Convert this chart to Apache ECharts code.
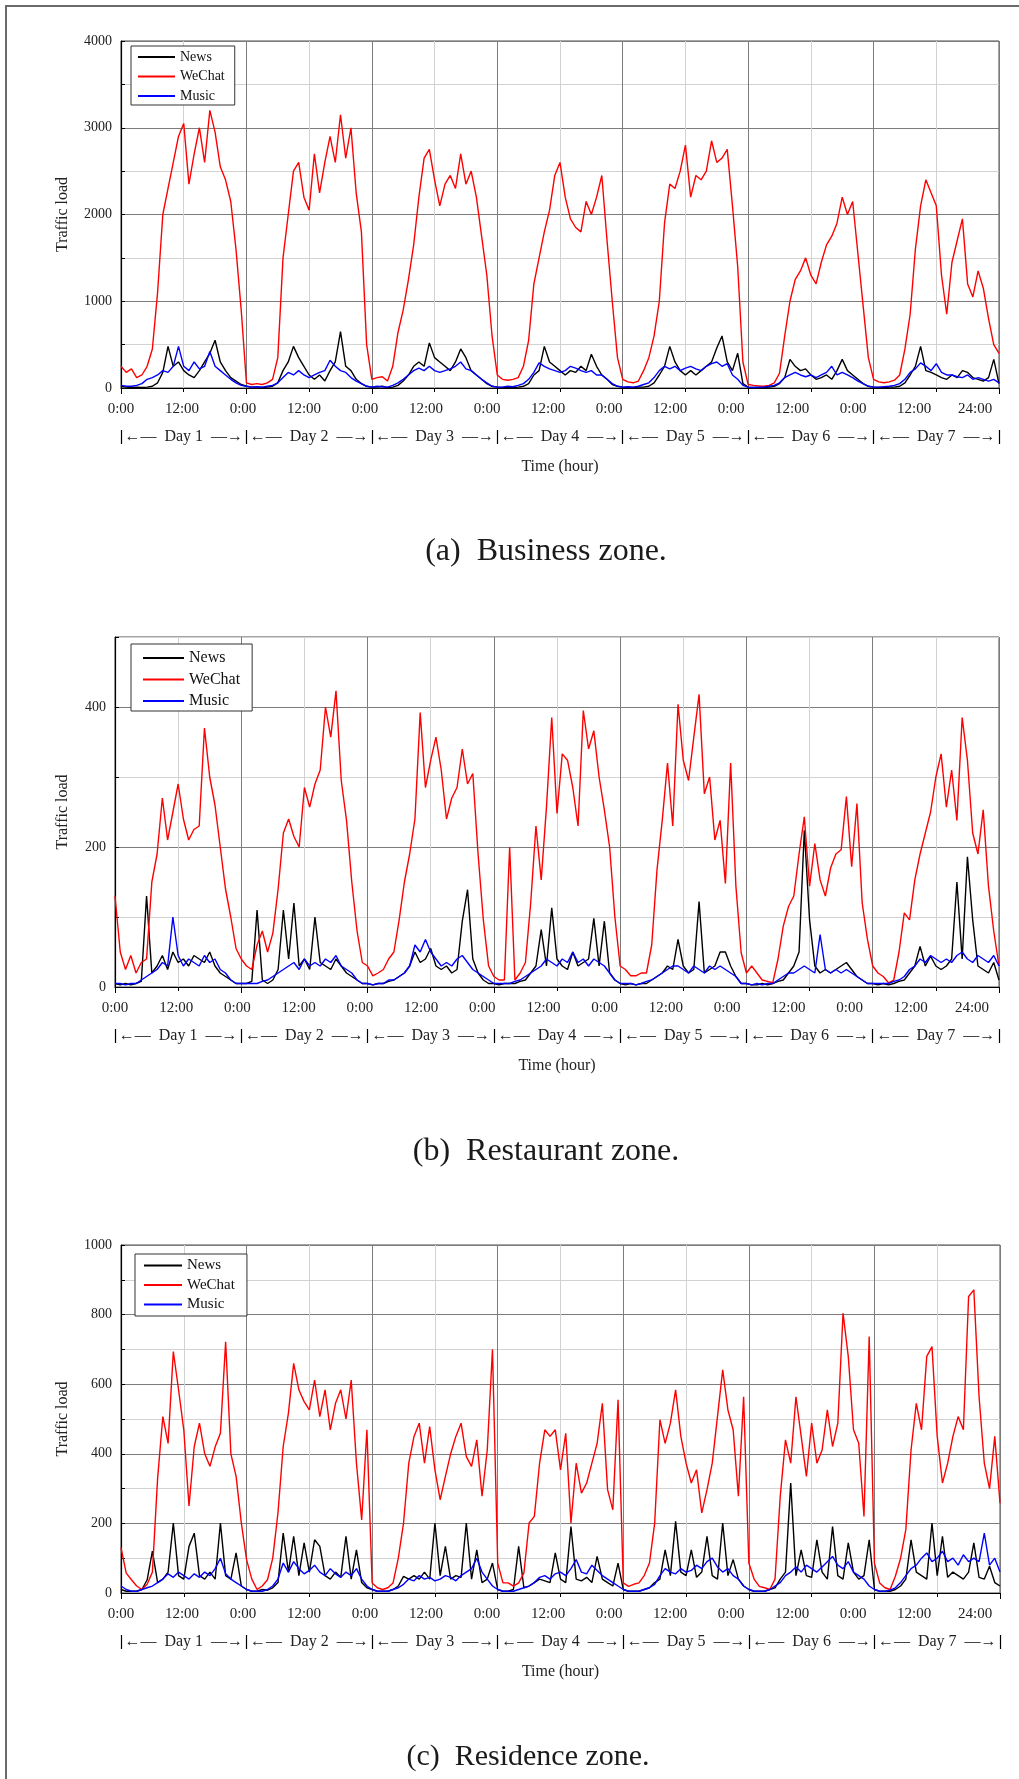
<!DOCTYPE html>
<html>
<head>
<meta charset="utf-8">
<script src="https://cdn.jsdelivr.net/npm/echarts@6/dist/echarts.min.js"></script>
<style>
html,body{margin:0;padding:0;background:#fff;}
#wrap{position:relative;width:1019px;height:1779px;overflow:hidden;}
#chart{width:1019px;height:1779px;}
#frame{position:absolute;left:5px;top:5px;right:-5px;bottom:-5px;border-left:2px solid #6a6a6a;border-top:2px solid #6a6a6a;pointer-events:none;}
</style>
</head>
<body>
<div id="wrap"><div id="chart"></div><div id="frame"></div></div>
<script>
// ---------------- DATA (hourly samples, hour 0 .. 168) ----------------
const seriesNames = ['News', 'WeChat', 'Music'];
const dayLabels = ['Day 1', 'Day 2', 'Day 3', 'Day 4', 'Day 5', 'Day 6', 'Day 7'];
const captions = ['(a)  Business zone.', '(b)  Restaurant zone.', '(c)  Residence zone.'];
const yTitle = 'Traffic load';
const xTitle = 'Time (hour)';

// (a) Business zone
const aNews = [
  20,10,5,10,5,10,20,60,180,480,250,300,200,150,120,200,300,400,550,300,200,120,80,40,
  20,10,10,5,10,20,60,200,300,480,350,250,150,100,150,80,200,300,650,250,200,100,50,20,
  10,10,20,5,10,30,80,150,250,300,250,520,350,300,250,200,300,450,350,200,150,100,50,20,
  10,5,10,5,10,20,50,150,200,480,300,250,200,150,200,180,250,200,390,250,150,100,40,20,
  10,5,5,10,10,20,60,150,250,480,300,200,150,200,150,200,250,300,460,600,300,200,400,50,
  10,5,5,5,10,20,50,120,330,250,200,220,150,100,120,150,100,200,330,200,150,100,50,20,
  10,5,5,10,10,20,60,150,250,480,200,180,150,120,100,150,120,200,180,120,100,80,120,330,50
];
const aWeChat = [
  250,180,220,120,150,250,450,1100,2000,2300,2600,2900,3050,2350,2700,3000,2600,3200,2950,2550,2400,2150,1600,900,
  60,40,50,40,60,100,350,1500,2000,2500,2600,2200,2050,2700,2250,2600,2900,2600,3150,2650,3000,2250,1800,500,
  100,120,130,80,250,640,900,1250,1650,2200,2650,2750,2400,2100,2350,2450,2300,2700,2350,2500,2200,1750,1300,600,
  150,100,90,100,120,250,550,1200,1500,1800,2050,2450,2600,2200,1950,1850,1800,2150,2000,2200,2450,1700,1000,350,
  100,70,60,80,200,350,600,1000,1900,2350,2300,2500,2800,2200,2450,2400,2500,2850,2600,2650,2750,2100,1400,300,
  40,30,25,20,30,60,170,600,1000,1250,1350,1500,1300,1200,1450,1650,1750,1900,2200,2000,2150,1550,950,350,
  100,70,60,70,90,150,450,850,1600,2100,2400,2250,2100,1300,850,1450,1700,1950,1200,1050,1350,1150,800,500,400
];
const aMusic = [
  30,20,20,30,50,100,120,150,200,180,250,480,250,200,300,220,250,420,250,200,150,100,60,30,
  20,10,15,10,20,30,60,120,180,150,200,150,120,150,180,200,320,250,200,180,120,80,50,20,
  10,20,15,10,30,60,100,150,200,230,200,250,200,180,200,220,250,300,220,200,150,100,60,20,
  10,10,20,15,30,50,100,180,290,250,220,200,180,200,250,230,200,180,200,150,150,100,50,20,
  10,15,10,20,40,60,120,200,250,220,250,200,230,250,220,200,250,280,300,250,280,150,100,30,
  10,5,10,10,20,30,60,120,150,180,150,130,150,120,150,180,250,150,180,150,120,80,50,20,
  10,10,15,20,30,50,100,180,220,290,250,200,280,180,150,150,130,120,150,100,120,100,80,100,60
];

// (b) Restaurant zone
const bNews = [
  5,3,5,3,5,8,130,20,30,45,25,50,35,40,30,45,40,35,50,30,20,15,10,5,
  5,5,8,110,10,5,10,25,110,40,120,30,40,25,100,35,30,25,40,30,20,15,10,5,
  5,3,5,5,8,10,15,20,30,50,35,40,55,30,25,30,20,25,94,139,40,20,10,5,
  5,3,5,5,5,8,10,20,30,82,30,113,40,30,25,50,30,35,40,98,30,94,20,10,
  5,3,5,3,5,5,10,15,20,30,25,68,30,20,25,122,20,25,30,50,50,30,15,5,
  5,3,3,5,3,5,8,10,20,30,50,224,96,30,20,25,20,25,30,35,25,15,10,5,
  5,3,5,3,5,8,10,20,30,58,30,44,30,25,30,40,150,40,186,96,30,25,20,35,10
];
const bWeChat = [
  130,50,25,45,20,35,40,150,190,270,210,250,290,240,210,225,230,370,300,260,200,140,100,55,
  40,30,25,60,80,50,77,140,220,240,215,200,285,257,290,310,400,357,423,295,238,150,80,35,
  30,16,20,25,40,50,96,150,190,240,392,285,324,357,310,240,270,285,340,290,305,190,96,30,
  15,10,10,200,10,20,35,120,230,153,257,385,248,333,324,285,230,395,340,366,300,253,200,100,
  30,25,16,16,20,20,60,167,238,320,230,404,324,295,357,418,276,300,210,238,148,320,144,49,
  20,30,20,10,8,6,40,87,115,130,190,243,144,205,153,130,170,190,196,272,172,262,120,68,
  30,20,15,6,10,50,106,96,153,190,220,250,300,333,257,310,238,385,324,220,190,253,144,80,30
];
const bMusic = [
  5,5,3,5,5,10,15,20,25,35,30,100,45,30,40,35,30,45,35,40,25,20,10,5,
  5,5,5,5,8,10,15,20,25,30,35,25,40,30,35,30,40,35,45,30,25,20,10,5,
  5,3,5,5,10,10,15,20,30,60,50,68,50,40,30,35,30,40,45,35,25,20,15,10,
  5,5,5,5,8,10,15,20,25,30,40,35,30,40,35,50,35,40,30,40,35,30,20,10,
  5,5,5,3,5,8,10,15,20,25,30,30,25,20,30,25,20,30,25,30,25,20,15,5,
  5,3,5,3,5,5,10,15,20,20,25,30,25,20,75,25,20,25,20,25,20,15,10,5,
  5,5,5,5,8,10,15,25,30,40,35,45,40,35,40,35,45,50,40,35,45,40,35,45,30
];

// (c) Residence zone
const cNews = [
  10,5,5,5,10,38,120,30,40,60,201,50,40,134,172,50,40,60,40,201,50,40,115,20,
  10,5,5,10,8,15,30,172,60,163,50,144,60,153,134,50,40,60,45,163,40,124,30,15,
  10,5,5,5,10,20,48,40,50,40,60,40,201,50,134,40,50,45,201,40,124,30,40,86,
  10,5,5,10,134,15,20,30,40,35,30,115,40,30,191,40,35,45,30,105,40,30,20,86,
  10,5,5,5,10,15,30,40,124,50,206,60,50,124,45,60,163,50,40,201,50,96,40,20,
  10,5,5,5,10,15,40,60,316,50,124,50,45,153,60,40,191,50,40,144,60,40,50,153,
  10,5,5,5,10,20,40,153,60,50,40,201,50,163,45,60,50,40,60,144,45,40,77,30,20
];
const cWeChat = [
  130,57,38,20,10,25,60,330,507,430,694,584,469,250,421,488,400,364,420,459,722,400,335,201,
  96,40,10,20,38,100,230,421,517,660,584,550,526,612,507,584,469,545,584,500,612,373,210,469,
  29,15,10,15,29,100,201,373,450,488,373,478,354,268,335,400,450,488,392,364,440,278,411,700,
  86,29,29,20,29,57,201,220,373,469,450,469,354,459,201,373,287,316,373,430,545,297,239,555,
  29,19,25,29,50,86,201,498,430,488,584,450,373,316,354,230,297,373,507,641,526,469,278,564,
  86,40,19,15,10,40,278,440,373,564,450,335,488,373,411,526,421,488,804,680,469,430,220,737,
  86,29,15,10,48,100,182,411,545,469,680,708,450,316,373,450,507,469,852,871,564,373,300,450,258
];
const cMusic = [
  20,10,5,5,10,15,20,30,40,55,45,60,50,40,55,45,60,50,70,100,55,40,30,20,
  10,5,5,5,10,20,40,86,60,90,70,55,65,80,60,50,70,55,45,60,50,70,40,20,
  10,5,5,5,10,15,25,40,35,50,40,45,35,40,50,45,35,50,60,70,100,60,40,20,
  10,5,5,5,10,15,20,30,45,50,40,55,60,50,70,96,60,55,80,65,50,40,30,20,
  10,5,5,5,10,15,25,50,70,60,55,70,60,65,80,70,90,100,75,60,70,50,40,20,
  10,5,5,5,10,20,30,50,60,75,60,80,70,60,75,90,105,80,70,90,60,50,40,20,
  10,5,5,8,15,30,50,70,80,100,115,90,100,120,90,100,80,110,90,100,90,172,80,100,60
];

const panelSeries = [[aNews, aWeChat, aMusic], [bNews, bWeChat, bMusic], [cNews, cWeChat, cMusic]];
const yMaxes = [4000, 500, 1000];
const yLabelSteps = [1000, 200, 200];
const yMinorSteps = [500, 100, 100];

// ---------------- LAYOUT / STYLE ----------------
const SERIF = "'Liberation Serif','Times New Roman',Times,serif";
const lineColors = ['#000000', '#ff0000', '#0000ff'];
const MAJOR = '#7c7c7c', MINOR = '#d2d2d2';
const layout = [
  { grid: {left:121, top:41, width:878, height:347}, nameGap:50, labelMax:172.7,
    legend: {left:131, top:46, itemWidth:37, itemGap:5.5, fontSize:14, padding:[4,10,2,7]},
    caption: {x:546, y:536, size:32} },
  { grid: {left:115, top:637, width:884, height:350}, nameGap:44, labelMax:173.3,
    legend: {left:131, top:644, itemWidth:41, itemGap:5.5, fontSize:16, padding:[6,12,2,12]},
    caption: {x:546, y:1136, size:32} },
  { grid: {left:121, top:1245, width:879, height:348}, nameGap:50, labelMax:172.9,
    legend: {left:135, top:1254, itemWidth:38, itemGap:4.5, fontSize:15, padding:[4,12,4,9]},
    caption: {x:528, y:1742, size:30} }
];

const grids = [], xAxes = [], yAxes = [], series = [], legends = [], titles = [];
layout.forEach((L, p) => {
  grids.push(Object.assign({show:true, borderColor:'#4a4a4a', borderWidth:1, backgroundColor:'#fff',
    containLabel:false, outerBoundsMode:'none'}, L.grid));
  // main time axis (draws grid, ticks, title)
  xAxes.push({
    type:'value', gridIndex:p, position:'bottom', min:0, max:168, interval:24,
    axisLine:{show:true, onZero:false, lineStyle:{color:'#000', width:1.2}},
    axisTick:{show:true, length:6, lineStyle:{color:'#000'}},
    minorTick:{show:true, splitNumber:2, length:4, lineStyle:{color:'#000'}},
    axisLabel:{show:false},
    splitLine:{show:true, showMinLine:true, showMaxLine:true, lineStyle:{color:MAJOR, width:1}},
    minorSplitLine:{show:true, lineStyle:{color:MINOR, width:1}},
    name:xTitle, nameLocation:'middle', nameGap:71,
    nameTextStyle:{fontFamily:SERIF, fontSize:16, color:'#222'}
  });
  // time-of-day labels
  xAxes.push({
    type:'value', gridIndex:p, position:'bottom', min:0, max:L.labelMax, interval:12,
    axisLine:{show:false, onZero:false}, axisTick:{show:false}, splitLine:{show:false},
    minorTick:{show:false}, minorSplitLine:{show:false},
    axisLabel:{show:true, margin:14, fontFamily:SERIF, fontSize:15, color:'#222',
      showMinLabel:true, showMaxLabel:true, hideOverlap:false,
      formatter: v => {
        if (v > 168.01) return '';
        const r = Math.round(v);
        if (r === 168) return '24:00';
        return (r % 24 === 0) ? '0:00' : '12:00';
      }}
  });
  // day labels row
  xAxes.push({
    type:'category', gridIndex:p, position:'bottom', offset:56, data:dayLabels, boundaryGap:true,
    axisLine:{show:false, onZero:false},
    axisTick:{show:true, inside:true, length:14, interval:0, alignWithLabel:false, lineStyle:{color:'#000', width:1.2}},
    splitLine:{show:false},
    axisLabel:{show:true, interval:0, margin:-7, verticalAlign:'middle', fontFamily:SERIF, fontSize:16, color:'#222',
      formatter: v => '\u2190\u2014\u2002' + v + '\u2002\u2014\u2192'}
  });
  const step = yLabelSteps[p];
  yAxes.push({
    type:'value', gridIndex:p, position:'left', min:0, max:yMaxes[p], interval:yMinorSteps[p],
    axisLine:{show:true, onZero:false, lineStyle:{color:'#000', width:1.2}},
    axisTick:{show:true, inside:true, length:4, lineStyle:{color:'#000'}},
    axisLabel:{show:true, margin:9, fontFamily:SERIF, fontSize:14, color:'#222',
      formatter: v => (Math.round(v) % step === 0 ? String(v) : '')},
    splitLine:{show:true, showMinLine:true, showMaxLine:true, lineStyle:{color:[MAJOR, MINOR], width:1}},
    name:yTitle, nameLocation:'middle', nameGap:L.nameGap, nameRotate:90,
    nameTextStyle:{fontFamily:SERIF, fontSize:16, color:'#222'}
  });
  panelSeries[p].forEach((vals, k) => {
    series.push({
      type:'line', name:seriesNames[k], xAxisIndex:3*p, yAxisIndex:p,
      data: vals.map((v, i) => [i, v]),
      symbol:'none', showSymbol:false, clip:true, animation:false,
      lineStyle:{color:lineColors[k], width:1.4}, itemStyle:{color:lineColors[k]},
      emphasis:{disabled:true}, z:2 + k
    });
  });
  legends.push({
    show:true, orient:'vertical', left:L.legend.left, top:L.legend.top,
    data: seriesNames.map(n => ({name:n, icon:'rect'})),
    itemWidth:L.legend.itemWidth, itemHeight:2, itemGap:L.legend.itemGap,
    padding:L.legend.padding, borderColor:'#333', borderWidth:1, backgroundColor:'#fff',
    selectedMode:false, z:10,
    textStyle:{fontFamily:SERIF, fontSize:L.legend.fontSize, color:'#111'}
  });
  titles.push({
    text:captions[p], left:L.caption.x, top:L.caption.y, textAlign:'center', padding:0,
    textStyle:{fontFamily:SERIF, fontSize:L.caption.size, fontWeight:'normal', color:'#1a1a1a'}
  });
});

const chart = echarts.init(document.getElementById('chart'), null, {renderer:'canvas'});
chart.setOption({
  animation:false,
  backgroundColor:'#fff',
  title:titles,
  legend:legends,
  grid:grids,
  xAxis:xAxes,
  yAxis:yAxes,
  tooltip:{show:false},
  series:series
});
</script>
</body>
</html>
